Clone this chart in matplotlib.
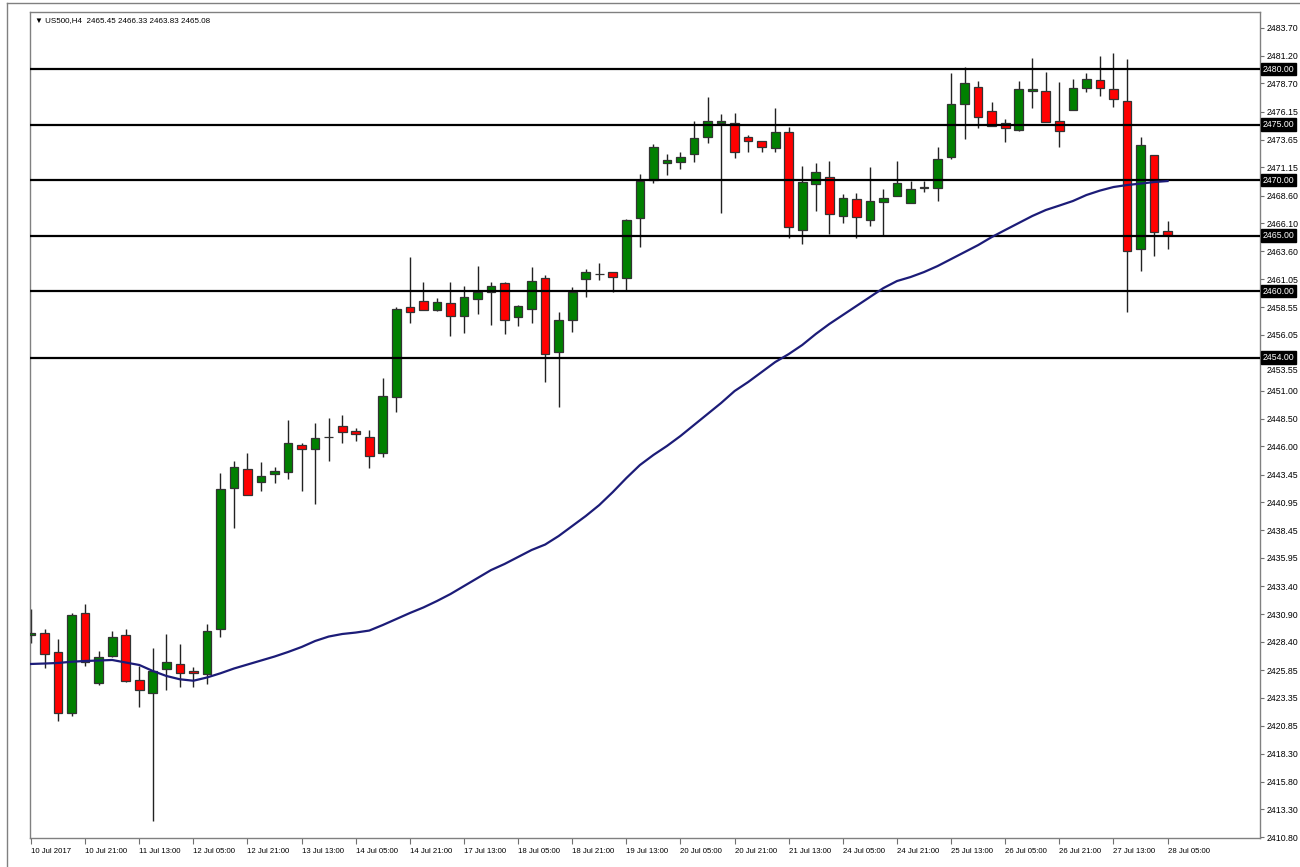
import matplotlib.pyplot as plt
from matplotlib.transforms import blended_transform_factory, offset_copy
from matplotlib.lines import Line2D

plt.rcParams['font.family'] = ['Liberation Sans', 'DejaVu Sans']

# US500 H4 candles, 10 Jul 2017 .. 28 Jul 2017
opens = [2429.00, 2429.16, 2427.45, 2421.95, 2430.96, 2424.66, 2427.12, 2428.98, 2424.95, 2423.76,
         2425.92, 2426.37, 2425.77, 2425.47, 2429.52, 2442.23, 2443.99, 2442.77, 2443.54, 2443.69,
         2446.13, 2445.74, 2446.82, 2447.81, 2447.41, 2446.87, 2445.38, 2450.48, 2458.56, 2459.10,
         2458.29, 2458.89, 2457.72, 2459.25, 2459.88, 2460.69, 2457.63, 2458.41, 2461.14, 2454.53,
         2457.39, 2461.05, 2461.50, 2461.68, 2461.14, 2466.60, 2470.00, 2471.53, 2471.59, 2472.32,
         2473.85, 2475.11, 2475.11, 2473.90, 2473.51, 2472.88, 2474.30, 2465.50, 2469.61, 2470.30,
         2466.76, 2468.26, 2466.40, 2467.99, 2468.56, 2467.90, 2469.25, 2469.25, 2472.05, 2476.85,
         2478.38, 2476.24, 2475.16, 2474.50, 2478.02, 2478.02, 2475.29, 2476.31, 2478.26, 2478.98,
         2478.17, 2477.09, 2463.76, 2472.23, 2465.45]
highs = [2431.35, 2429.55, 2428.62, 2431.02, 2431.80, 2427.59, 2429.34, 2429.58, 2426.22, 2427.81,
         2429.07, 2428.20, 2426.15, 2429.97, 2443.63, 2444.68, 2445.43, 2444.57, 2444.17, 2448.38,
         2446.33, 2448.08, 2448.53, 2448.86, 2447.68, 2447.48, 2452.13, 2458.59, 2463.09, 2460.78,
         2459.34, 2460.78, 2460.48, 2462.25, 2460.78, 2460.78, 2458.74, 2462.14, 2461.44, 2458.11,
         2460.39, 2461.95, 2462.50, 2461.68, 2466.45, 2470.51, 2473.24, 2472.34, 2472.55, 2475.32,
         2477.50, 2475.92, 2476.06, 2474.05, 2473.51, 2476.51, 2474.80, 2471.26, 2471.56, 2471.71,
         2468.71, 2468.86, 2471.14, 2469.16, 2471.71, 2469.94, 2469.91, 2472.95, 2479.67, 2480.21,
         2478.95, 2477.00, 2475.47, 2478.95, 2480.96, 2479.70, 2478.80, 2479.10, 2479.67, 2481.17,
         2481.41, 2480.87, 2473.90, 2472.23, 2466.33]
lows = [2428.30, 2426.06, 2421.29, 2421.74, 2426.22, 2424.50, 2427.06, 2424.75, 2422.50, 2412.25,
        2424.05, 2424.35, 2424.35, 2424.57, 2428.86, 2438.62, 2441.59, 2441.98, 2442.73, 2443.04,
        2441.98, 2440.78, 2444.71, 2446.33, 2446.51, 2444.03, 2445.07, 2449.07, 2457.09, 2458.26,
        2458.23, 2455.95, 2456.24, 2457.93, 2456.94, 2456.10, 2456.85, 2457.09, 2451.83, 2449.58,
        2456.33, 2459.43, 2460.99, 2459.94, 2460.03, 2463.99, 2469.70, 2470.45, 2470.96, 2471.59,
        2473.31, 2467.00, 2471.95, 2472.50, 2472.50, 2472.50, 2464.75, 2464.23, 2467.23, 2465.11,
        2466.15, 2464.75, 2465.86, 2464.95, 2468.56, 2467.90, 2468.89, 2468.14, 2471.86, 2473.67,
        2474.66, 2474.86, 2473.40, 2474.44, 2476.46, 2475.20, 2472.95, 2476.31, 2477.90, 2477.59,
        2476.60, 2458.08, 2461.83, 2463.18, 2463.83]
closes = [2429.19, 2427.30, 2422.01, 2430.81, 2426.60, 2427.05, 2428.80, 2424.84, 2424.05, 2425.79,
          2426.60, 2425.61, 2425.59, 2429.34, 2442.14, 2444.14, 2441.59, 2443.31, 2443.76, 2446.28,
          2445.74, 2446.73, 2446.82, 2447.27, 2447.12, 2445.14, 2450.54, 2458.35, 2458.11, 2458.26,
          2459.01, 2457.77, 2459.46, 2459.94, 2460.45, 2457.41, 2458.62, 2460.90, 2454.35, 2457.39,
          2459.91, 2461.68, 2461.50, 2461.23, 2466.40, 2469.94, 2473.00, 2471.77, 2472.07, 2473.76,
          2475.29, 2475.29, 2472.55, 2473.51, 2473.00, 2474.30, 2465.79, 2469.79, 2470.75, 2466.91,
          2468.41, 2466.64, 2468.14, 2468.41, 2469.70, 2469.16, 2469.40, 2471.89, 2476.82, 2478.71,
          2475.65, 2474.86, 2474.66, 2478.17, 2478.17, 2475.20, 2474.44, 2478.32, 2479.07, 2478.32,
          2477.30, 2463.60, 2473.13, 2465.29, 2465.08]

# moving average
ma = [2426.40, 2426.44, 2426.49, 2426.60, 2426.67, 2426.71, 2426.76, 2426.53, 2426.31, 2425.77,
      2425.32, 2425.02, 2424.89, 2425.18, 2425.56, 2425.99, 2426.35, 2426.71, 2427.07, 2427.48,
      2427.93, 2428.47, 2428.87, 2429.10, 2429.23, 2429.41, 2429.91, 2430.45, 2430.99, 2431.49,
      2432.07, 2432.70, 2433.42, 2434.14, 2434.86, 2435.41, 2436.04, 2436.67, 2437.16, 2437.93,
      2438.83, 2439.73, 2440.72, 2441.89, 2443.15, 2444.32, 2445.23, 2446.04, 2446.94, 2447.93,
      2448.92, 2449.91, 2450.99, 2451.80, 2452.70, 2453.60, 2454.32, 2455.14, 2456.13, 2457.03,
      2457.84, 2458.65, 2459.46, 2460.27, 2460.90, 2461.26, 2461.71, 2462.25, 2462.88, 2463.51,
      2464.14, 2464.86, 2465.50, 2466.13, 2466.76, 2467.30, 2467.70, 2468.11, 2468.65, 2469.05,
      2469.37, 2469.55, 2469.68, 2469.82, 2469.91]

levels = [2480, 2475, 2470, 2465, 2460, 2454]

price_ticks = [2410.80, 2413.30, 2415.80, 2418.30, 2420.85, 2423.35, 2425.85, 2428.40, 2430.90,
               2433.40, 2435.95, 2438.45, 2440.95, 2443.45, 2446.00, 2448.50, 2451.00, 2453.55,
               2456.05, 2458.55, 2461.05, 2463.60, 2466.10, 2468.60, 2471.15, 2473.65, 2476.15,
               2478.70, 2481.20, 2483.70]

date_labels = ['10 Jul 2017', '10 Jul 21:00', '11 Jul 13:00', '12 Jul 05:00', '12 Jul 21:00',
               '13 Jul 13:00', '14 Jul 05:00', '14 Jul 21:00', '17 Jul 13:00', '18 Jul 05:00',
               '18 Jul 21:00', '19 Jul 13:00', '20 Jul 05:00', '20 Jul 21:00', '21 Jul 13:00',
               '24 Jul 05:00', '24 Jul 21:00', '25 Jul 13:00', '26 Jul 05:00', '26 Jul 21:00',
               '27 Jul 13:00', '28 Jul 05:00']

W, H = 1300, 867
fig = plt.figure(figsize=(W / 100, H / 100), dpi=100)
fig.patch.set_facecolor('white')
ax = fig.add_axes([30 / W, 1 - 838 / H, 1230 / W, 826 / H])

n = len(opens)
xs = list(range(n))

# candles
for i in xs:
    o, h, l, c = opens[i], highs[i], lows[i], closes[i]
    if c > o:
        col = '#008000'
    elif c < o:
        col = '#ff0000'
    else:
        col = 'black'
    ax.vlines(i, l, h, color='#222222', lw=1, zorder=2)
    body = max(abs(c - o), 0.02)
    ax.bar(i, body, bottom=min(o, c), width=0.64, color=col,
           edgecolor='#333333', lw=0.9, zorder=3)

# moving average
ax.plot(xs, ma, color='#1c1c78', lw=1.6, zorder=5)

# horizontal levels
for lv in levels:
    ax.axhline(lv, color='black', lw=1.6, zorder=4)

ax.set_xlim(-0.074, 90.83)
ax.set_ylim(2410.72, 2485.14)

# right price scale
ax.yaxis.tick_right()
ax.set_yticks(price_ticks)
ax.set_yticklabels(['%.2f' % p for p in price_ticks])
ax.tick_params(axis='y', direction='out', length=3, width=0.8, colors='#707070',
               labelcolor='black', labelsize=6.3, pad=2)
# the 2453.55 label sits under the 2454.00 box, nudge it just below
for lab in ax.get_yticklabels():
    if lab.get_text() == '2453.55':
        lab.set_transform(offset_copy(lab.get_transform(), fig=fig, x=0, y=-5, units='points'))

# time scale
ax.set_xticks(range(0, n, 4))
ax.set_xticklabels(date_labels)
for lab in ax.get_xticklabels():
    lab.set_horizontalalignment('left')
ax.tick_params(axis='x', direction='out', length=4, width=0.8, colors='#707070',
               labelcolor='black', labelsize=5.6, pad=3)

for s in ['left', 'right', 'bottom', 'top']:
    ax.spines[s].set_color('#808080')
    ax.spines[s].set_linewidth(1)

# level price boxes
trans = blended_transform_factory(ax.transAxes, ax.transData)
for lv in levels:
    ax.text(1.0025, lv, '%.2f' % lv, transform=trans, color='white', fontsize=6.3,
            va='center', ha='left', clip_on=False, zorder=10,
            bbox=dict(facecolor='black', edgecolor='black', pad=1.2))

# symbol header
fig.text(35 / W, 1 - 21 / H, '\u25bc US500,H4  2465.45 2466.33 2463.83 2465.08',
         fontsize=5.8, va='center', ha='left', color='black')

# window frame
fig.add_artist(Line2D([7 / W, 7 / W], [0, 1 - 3 / H], color='#808080', lw=1))
fig.add_artist(Line2D([7 / W, 1], [1 - 3 / H, 1 - 3 / H], color='#808080', lw=1))

fig.savefig('out.png', dpi=100)
